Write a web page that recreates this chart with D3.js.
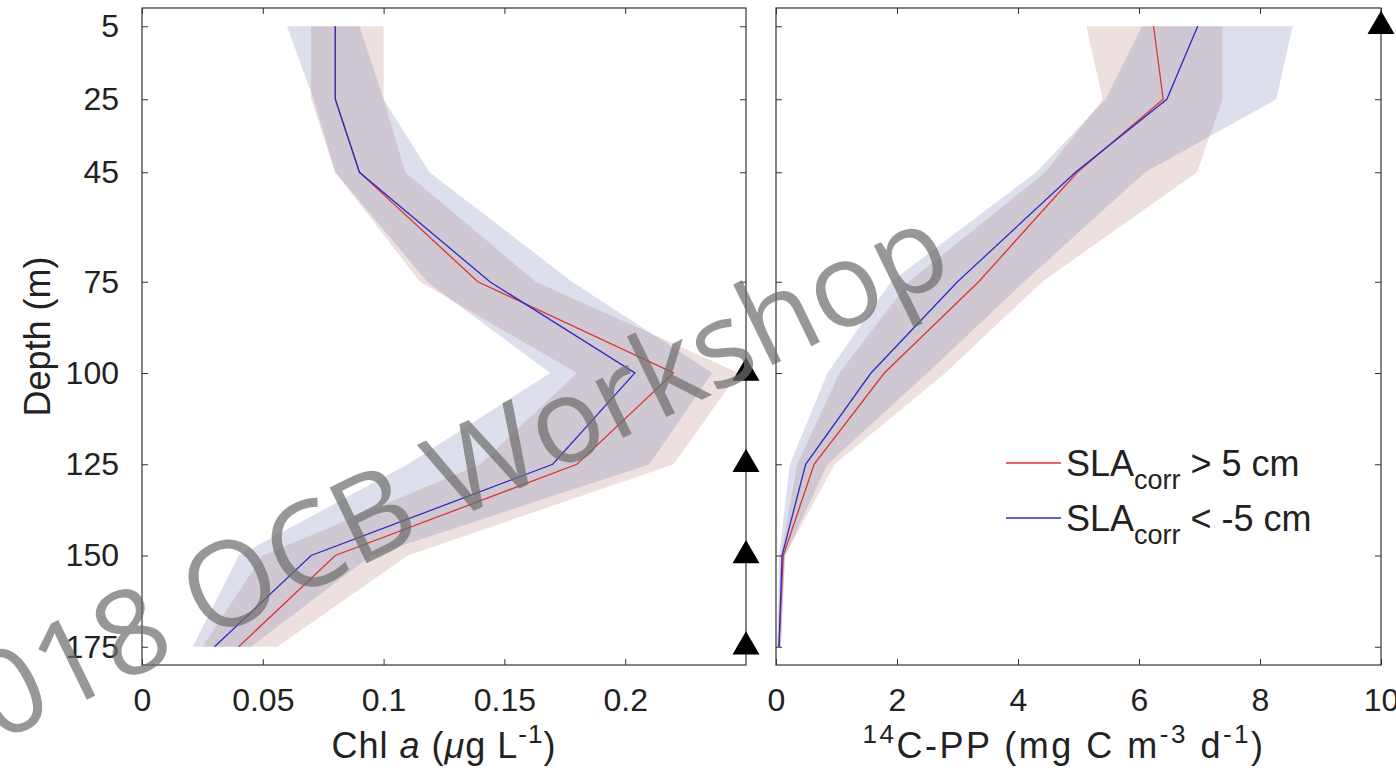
<!DOCTYPE html>
<html>
<head>
<meta charset="utf-8">
<script src="https://cdn.jsdelivr.net/npm/d3@7"></script>
<style>
  body { margin: 0; background: #fff; }
  svg text { font-family: "Liberation Sans", Arial, Helvetica, sans-serif; fill: #222; }
</style>
</head>
<body>
<script>
// depth levels (m)
var depths = [5, 25, 45, 75, 100, 125, 150, 175];

// Chl a (ug/L): SLAcorr > 5 cm (red) and < -5 cm (blue), with band limits
var chlPos   = [0.08, 0.08, 0.09, 0.139, 0.22, 0.18, 0.08, 0.04];
var chlPosLo = [0.07, 0.07, 0.08, 0.115, 0.18, 0.14, 0.05, 0.025];
var chlPosHi = [0.10, 0.10, 0.109, 0.163, 0.247, 0.22, 0.11, 0.056];
var chlNeg   = [0.08, 0.08, 0.09, 0.144, 0.204, 0.17, 0.07, 0.03];
var chlNegLo = [0.06, 0.071, 0.08, 0.118, 0.169, 0.11, 0.04, 0.021];
var chlNegHi = [0.09, 0.10, 0.119, 0.178, 0.236, 0.21, 0.095, 0.045];

// 14C-PP (mg C m-3 d-1)
var ppPos   = [6.24, 6.40, 4.98, 3.35, 1.79, 0.63, 0.12, 0.05];
var ppPosLo = [5.13, 5.40, 4.45, 2.2, 1.05, 0.35, 0.08, 0.02];
var ppPosHi = [7.38, 7.38, 6.96, 4.4, 2.8, 0.97, 0.15, 0.08];
var ppNeg   = [6.97, 6.46, 4.95, 3.0, 1.57, 0.49, 0.10, 0.05];
var ppNegLo = [6.05, 5.45, 4.30, 1.9, 0.85, 0.23, 0.05, 0.02];
var ppNegHi = [8.54, 8.27, 6.10, 4.1, 2.5, 0.85, 0.15, 0.08];

var depthTicks = [5, 25, 45, 75, 100, 125, 150, 175];
var chlTicks = [0, 0.05, 0.1, 0.15, 0.2];
var ppTicks = [0, 2, 4, 6, 8, 10];

// triangle markers on the right edge of each panel
var chlMarks = [100, 125, 150, 175];
var ppMarks = [5];

var legendText = ["> 5 cm", "< -5 cm"];
var legendColors = ["#dc3535", "#2c2cc8"];

var width = 1396, height = 775;
var plotTop = 8, plotBottom = 665;

var svg = d3.select("body").append("svg")
    .attr("width", width).attr("height", height);

svg.append("rect").attr("width", width).attr("height", height).attr("fill", "#fff");

var y = d3.scaleLinear().domain([0, 180]).range([plotTop, plotBottom]);

var xChl = d3.scaleLinear().domain([0, 0.25]).range([142, 746]);
var xPP = d3.scaleLinear().domain([0, 10]).range([776, 1381]);

function rows(mid, lo, hi) {
    return depths.map((d, i) => ({ depth: d, v: mid[i], lo: lo[i], hi: hi[i] }));
}

function panel(x, ticks, red, blue, marks, labelTicks) {
    var g = svg.append("g");

    var area = d3.area()
        .y(d => y(d.depth))
        .x0(d => x(d.lo))
        .x1(d => x(d.hi));

    // red band first, blue band over it
    g.append("path").datum(red).attr("d", area)
        .attr("fill", "rgb(172,102,88)").attr("fill-opacity", 0.2);
    g.append("path").datum(blue).attr("d", area)
        .attr("fill", "rgb(86,100,162)").attr("fill-opacity", 0.2);

    var line = d3.line().x(d => x(d.v)).y(d => y(d.depth));
    g.append("path").datum(red).attr("d", line)
        .attr("fill", "none").attr("stroke", legendColors[0]).attr("stroke-width", 1.3);
    g.append("path").datum(blue).attr("d", line)
        .attr("fill", "none").attr("stroke", legendColors[1]).attr("stroke-width", 1.3);

    var x0 = x.range()[0], x1 = x.range()[1];

    // frame
    g.append("rect")
        .attr("x", x0).attr("y", plotTop)
        .attr("width", x1 - x0).attr("height", plotBottom - plotTop)
        .attr("fill", "none").attr("stroke", "#333").attr("stroke-width", 1.2);

    var fmt = d3.format("~g");

    g.append("g").attr("transform", "translate(0," + plotBottom + ")")
        .call(d3.axisBottom(x).tickValues(ticks).tickSize(-6).tickPadding(23).tickFormat(fmt));
    g.append("g").attr("transform", "translate(0," + plotTop + ")")
        .call(d3.axisTop(x).tickValues(ticks).tickSize(-6).tickFormat(""));

    g.append("g").attr("transform", "translate(" + x0 + ",0)")
        .call(d3.axisLeft(y).tickValues(depthTicks).tickSize(-6).tickPadding(23)
            .tickFormat(labelTicks ? fmt : ""));
    g.append("g").attr("transform", "translate(" + x1 + ",0)")
        .call(d3.axisRight(y).tickValues(depthTicks).tickSize(-6).tickFormat(""));

    g.selectAll(".domain").remove();
    g.selectAll(".tick line").attr("stroke", "#333");
    g.selectAll(".tick text").style("font-size", "32px").style("fill", "#222")
        .style("font-family", "'Liberation Sans', Arial, sans-serif");

    // triangles
    g.selectAll(".mark").data(marks).enter().append("path")
        .attr("d", d3.symbol(d3.symbolTriangle, 316))
        .attr("transform", d => "translate(" + x1 + "," + y(d) + ")")
        .attr("fill", "#000");

    return g;
}

panel(xChl, chlTicks, rows(chlPos, chlPosLo, chlPosHi), rows(chlNeg, chlNegLo, chlNegHi), chlMarks, true);
panel(xPP, ppTicks, rows(ppPos, ppPosLo, ppPosHi), rows(ppNeg, ppNegLo, ppNegHi), ppMarks, false);

// axis titles
svg.append("text")
    .attr("transform", "translate(50," + ((plotTop + plotBottom) / 2) + ") rotate(-90)")
    .attr("text-anchor", "middle").attr("font-size", 36)
    .text("Depth (m)");

var t1 = svg.append("text").attr("x", 444).attr("y", 758)
    .attr("text-anchor", "middle").attr("font-size", 36).attr("letter-spacing", 1);
t1.append("tspan").text("Chl ");
t1.append("tspan").attr("font-style", "italic").text("a");
t1.append("tspan").text(" (");
t1.append("tspan").attr("font-style", "italic").text("\u03bc");
t1.append("tspan").text("g L");
t1.append("tspan").attr("font-size", 26).attr("dy", -15).text("-1");
t1.append("tspan").attr("dy", 15).text(")");

var t2 = svg.append("text").attr("x", 1064).attr("y", 758)
    .attr("text-anchor", "middle").attr("font-size", 36).attr("letter-spacing", 2.5);
t2.append("tspan").attr("font-size", 26).attr("dy", -15).text("14");
t2.append("tspan").attr("dy", 15).text("C-PP (mg C m");
t2.append("tspan").attr("font-size", 26).attr("dy", -15).text("-3");
t2.append("tspan").attr("dy", 15).text(" d");
t2.append("tspan").attr("font-size", 26).attr("dy", -15).text("-1");
t2.append("tspan").attr("dy", 15).text(")");

// legend
var legY = [463, 518];
legendText.forEach(function(txt, i) {
    svg.append("line")
        .attr("x1", 1006).attr("x2", 1061)
        .attr("y1", legY[i]).attr("y2", legY[i])
        .attr("stroke", legendColors[i]).attr("stroke-width", 1.3);
    var t = svg.append("text").attr("x", 1066).attr("y", legY[i] + 13).attr("font-size", 36);
    t.append("tspan").text("SLA");
    t.append("tspan").attr("font-size", 27).attr("dy", 13).text("corr");
    t.append("tspan").attr("dy", -13).text(" " + txt);
});

// watermark
svg.append("text")
    .attr("transform", "translate(447,524) rotate(-26)")
    .attr("text-anchor", "middle")
    .style("font-family", "'Open Sans', sans-serif")
    .style("font-size", "118px")
    .style("fill", "#6f6f6f").style("fill-opacity", 0.72)
    .text("2018 OCB Workshop");
</script>
</body>
</html>
